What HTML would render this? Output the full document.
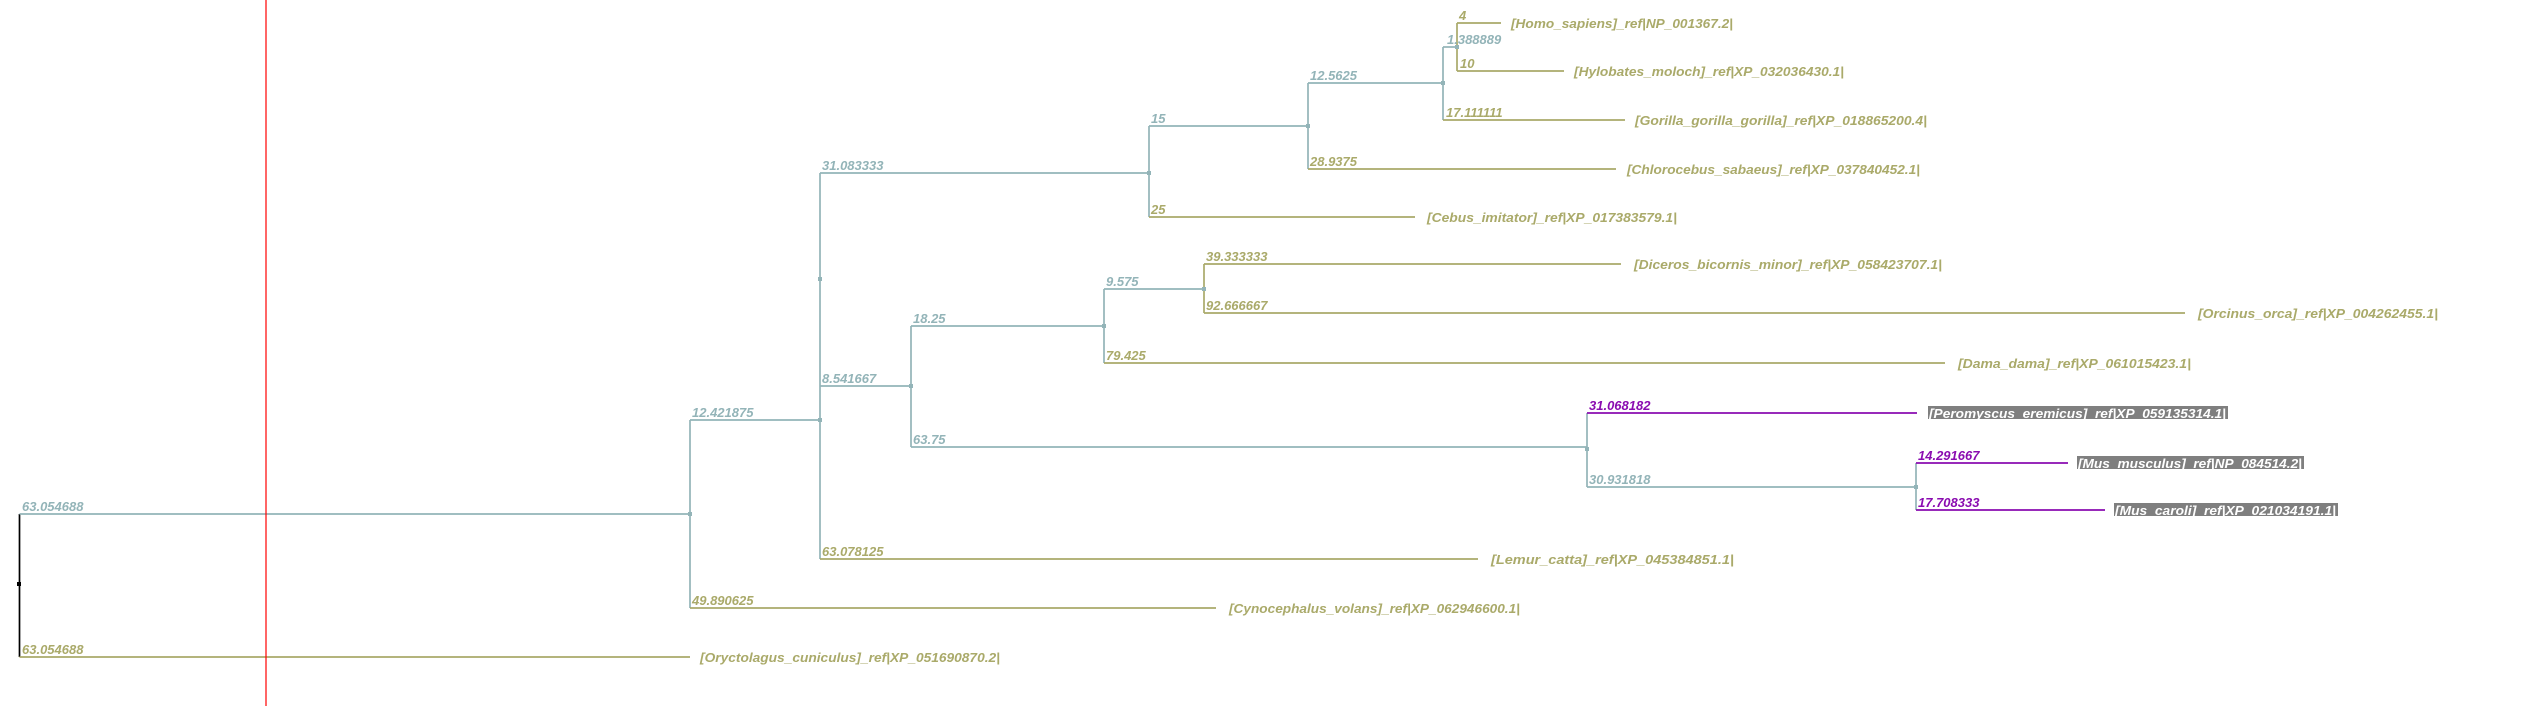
<!DOCTYPE html>
<html><head><meta charset="utf-8"><style>
html,body{margin:0;padding:0;background:#fff;}
svg{display:block;}
text{font-family:"Liberation Sans",Arial,sans-serif;font-style:italic;font-size:13px;font-weight:bold;}
.t{fill:#93b4b8;} .o{fill:#aaaa6a;} .p{fill:#8a0cb0;} .w{fill:#fff;}
</style></head><body>
<svg width="2542" height="706" viewBox="0 0 2542 706" xmlns="http://www.w3.org/2000/svg">
<g fill="none" stroke-width="1.7">
<line x1="19.5" y1="514" x2="19.5" y2="657" stroke="#000"/>
<line x1="19.5" y1="514" x2="690" y2="514" stroke="#93b4b8"/>
<line x1="19.5" y1="657" x2="690" y2="657" stroke="#aaaa6a"/>
<line x1="690" y1="420" x2="690" y2="608" stroke="#93b4b8"/>
<line x1="690" y1="420" x2="820" y2="420" stroke="#93b4b8"/>
<line x1="690" y1="608" x2="1216" y2="608" stroke="#aaaa6a"/>
<line x1="820" y1="173" x2="820" y2="559" stroke="#93b4b8"/>
<line x1="820" y1="173" x2="1149" y2="173" stroke="#93b4b8"/>
<line x1="820" y1="386" x2="911" y2="386" stroke="#93b4b8"/>
<line x1="820" y1="559" x2="1478" y2="559" stroke="#aaaa6a"/>
<line x1="1149" y1="126" x2="1149" y2="217" stroke="#93b4b8"/>
<line x1="1149" y1="126" x2="1308" y2="126" stroke="#93b4b8"/>
<line x1="1149" y1="217" x2="1415" y2="217" stroke="#aaaa6a"/>
<line x1="1308" y1="83" x2="1308" y2="169" stroke="#93b4b8"/>
<line x1="1308" y1="83" x2="1443" y2="83" stroke="#93b4b8"/>
<line x1="1308" y1="169" x2="1616" y2="169" stroke="#aaaa6a"/>
<line x1="1443" y1="47" x2="1443" y2="120" stroke="#93b4b8"/>
<line x1="1443" y1="47" x2="1457" y2="47" stroke="#93b4b8"/>
<line x1="1443" y1="120" x2="1625" y2="120" stroke="#aaaa6a"/>
<line x1="1457" y1="23" x2="1457" y2="71" stroke="#aaaa6a"/>
<line x1="1457" y1="23" x2="1501" y2="23" stroke="#aaaa6a"/>
<line x1="1457" y1="71" x2="1564" y2="71" stroke="#aaaa6a"/>
<line x1="911" y1="326" x2="911" y2="447" stroke="#93b4b8"/>
<line x1="911" y1="326" x2="1104" y2="326" stroke="#93b4b8"/>
<line x1="911" y1="447" x2="1587" y2="447" stroke="#93b4b8"/>
<line x1="1104" y1="289" x2="1104" y2="363" stroke="#93b4b8"/>
<line x1="1104" y1="289" x2="1204" y2="289" stroke="#93b4b8"/>
<line x1="1104" y1="363" x2="1945" y2="363" stroke="#aaaa6a"/>
<line x1="1204" y1="264" x2="1204" y2="313" stroke="#aaaa6a"/>
<line x1="1204" y1="264" x2="1621" y2="264" stroke="#aaaa6a"/>
<line x1="1204" y1="313" x2="2185" y2="313" stroke="#aaaa6a"/>
<line x1="1587" y1="413" x2="1587" y2="487" stroke="#93b4b8"/>
<line x1="1587" y1="413" x2="1917" y2="413" stroke="#8a0cb0"/>
<line x1="1587" y1="487" x2="1916" y2="487" stroke="#93b4b8"/>
<line x1="1916" y1="463" x2="1916" y2="510" stroke="#93b4b8"/>
<line x1="1916" y1="463" x2="2068" y2="463" stroke="#8a0cb0"/>
<line x1="1916" y1="510" x2="2105" y2="510" stroke="#8a0cb0"/>
<line x1="266" y1="0" x2="266" y2="706" stroke="#ff0000" stroke-width="1.2"/>
</g>
<g fill="#93b4b8">
<rect x="17" y="582" width="4" height="4" fill="#000"/>
<rect x="688" y="512" width="4" height="4"/>
<rect x="818" y="418" width="4" height="4"/>
<rect x="818" y="277" width="4" height="4"/>
<rect x="1147" y="171" width="4" height="4"/>
<rect x="1306" y="124" width="4" height="4"/>
<rect x="1441" y="81" width="4" height="4"/>
<rect x="1455" y="45" width="4" height="4"/>
<rect x="909" y="384" width="4" height="4"/>
<rect x="1102" y="324" width="4" height="4"/>
<rect x="1202" y="287" width="4" height="4"/>
<rect x="1585" y="447" width="4" height="4"/>
<rect x="1914" y="485" width="4" height="4"/>
</g>
<text x="22" y="511" class="t">63.054688</text>
<text x="22" y="654" class="o">63.054688</text>
<text x="692" y="417" class="t">12.421875</text>
<text x="692" y="605" class="o">49.890625</text>
<text x="822" y="170" class="t">31.083333</text>
<text x="822" y="383" class="t">8.541667</text>
<text x="822" y="556" class="o">63.078125</text>
<text x="1151" y="123" class="t">15</text>
<text x="1151" y="214" class="o">25</text>
<text x="1310" y="80" class="t">12.5625</text>
<text x="1310" y="166" class="o">28.9375</text>
<text x="1447" y="44" class="t">1.388889</text>
<text x="1459" y="20" class="o">4</text>
<text x="1460" y="68" class="o">10</text>
<text x="1446" y="117" class="o">17.111111</text>
<text x="913" y="323" class="t">18.25</text>
<text x="913" y="444" class="t">63.75</text>
<text x="1106" y="286" class="t">9.575</text>
<text x="1106" y="360" class="o">79.425</text>
<text x="1206" y="261" class="o">39.333333</text>
<text x="1206" y="310" class="o">92.666667</text>
<text x="1589" y="410" class="p">31.068182</text>
<text x="1589" y="484" class="t">30.931818</text>
<text x="1918" y="460" class="p">14.291667</text>
<text x="1918" y="507" class="p">17.708333</text>
<text x="1511" y="28" class="o" textLength="222" lengthAdjust="spacingAndGlyphs">[Homo_sapiens]_ref|NP_001367.2|</text>
<text x="1574" y="76" class="o" textLength="270" lengthAdjust="spacingAndGlyphs">[Hylobates_moloch]_ref|XP_032036430.1|</text>
<text x="1635" y="125" class="o" textLength="292" lengthAdjust="spacingAndGlyphs">[Gorilla_gorilla_gorilla]_ref|XP_018865200.4|</text>
<text x="1627" y="174" class="o" textLength="293" lengthAdjust="spacingAndGlyphs">[Chlorocebus_sabaeus]_ref|XP_037840452.1|</text>
<text x="1427" y="222" class="o" textLength="250" lengthAdjust="spacingAndGlyphs">[Cebus_imitator]_ref|XP_017383579.1|</text>
<text x="1634" y="269" class="o" textLength="308" lengthAdjust="spacingAndGlyphs">[Diceros_bicornis_minor]_ref|XP_058423707.1|</text>
<text x="2198" y="318" class="o" textLength="240" lengthAdjust="spacingAndGlyphs">[Orcinus_orca]_ref|XP_004262455.1|</text>
<text x="1958" y="368" class="o" textLength="233" lengthAdjust="spacingAndGlyphs">[Dama_dama]_ref|XP_061015423.1|</text>
<text x="1491" y="564" class="o" textLength="243" lengthAdjust="spacingAndGlyphs">[Lemur_catta]_ref|XP_045384851.1|</text>
<text x="1229" y="613" class="o" textLength="291" lengthAdjust="spacingAndGlyphs">[Cynocephalus_volans]_ref|XP_062946600.1|</text>
<text x="700" y="662" class="o" textLength="300" lengthAdjust="spacingAndGlyphs">[Oryctolagus_cuniculus]_ref|XP_051690870.2|</text>
<rect x="1928" y="406" width="300" height="13" fill="#7f7f7f"/>
<text x="1929" y="418" class="w" textLength="297" lengthAdjust="spacingAndGlyphs">[Peromyscus_eremicus]_ref|XP_059135314.1|</text>
<rect x="2077" y="456" width="227" height="13" fill="#7f7f7f"/>
<text x="2078" y="468" class="w" textLength="224" lengthAdjust="spacingAndGlyphs">[Mus_musculus]_ref|NP_084514.2|</text>
<rect x="2114" y="503" width="224" height="13" fill="#7f7f7f"/>
<text x="2115" y="515" class="w" textLength="221" lengthAdjust="spacingAndGlyphs">[Mus_caroli]_ref|XP_021034191.1|</text>
</svg>
</body></html>
